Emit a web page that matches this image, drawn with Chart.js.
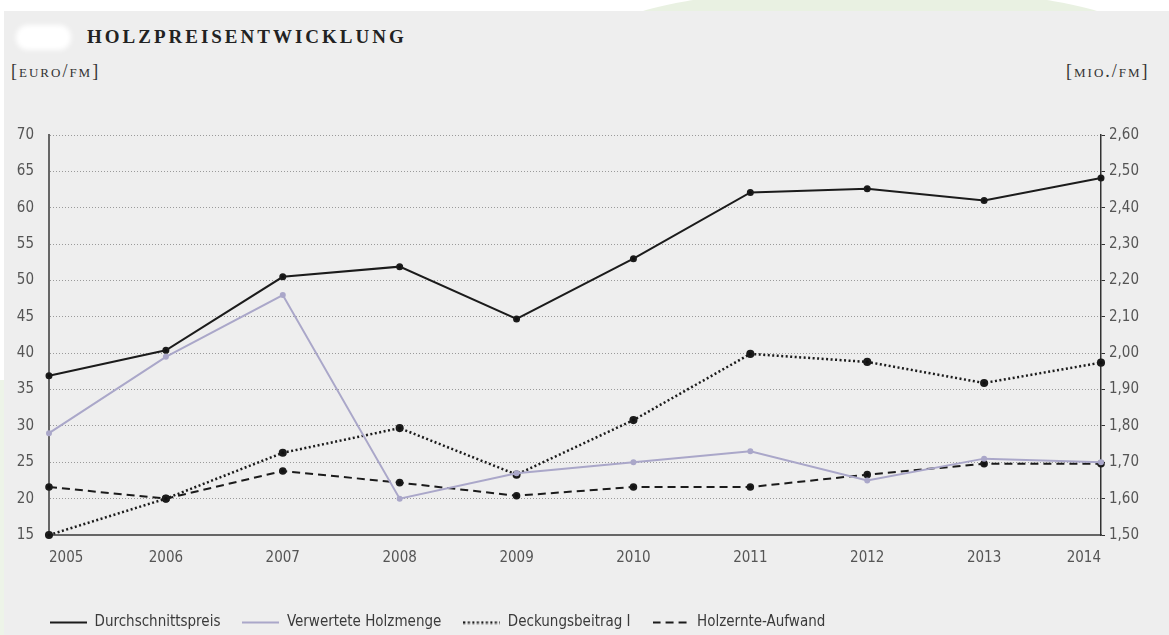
<!DOCTYPE html>
<html>
<head>
<meta charset="utf-8">
<script src="https://cdn.jsdelivr.net/npm/chart.js@4.4.1/dist/chart.umd.min.js"></script>
<style>
  body { margin: 0; width: 1169px; height: 635px; overflow: hidden; position: relative; background: #fff; }
  #arc { position: absolute; left: 610px; top: -12px; width: 520px; height: 90px; border-radius: 50%; background: #e9f1e2; }
  #strip { position: absolute; left: 0; top: 380px; width: 6px; height: 255px; background: #edf4e8; }
  #panel { position: absolute; left: 4px; top: 11px; right: 0; bottom: 0; background: #eeeeee; }
  #logo { position: absolute; left: 16px; top: 25px; width: 55px; height: 25px; background: #fff; border-radius: 12px; filter: blur(2.5px); }
  #title { position: absolute; left: 87px; top: 26px; font: bold 19px "Liberation Serif", serif; letter-spacing: 3px; color: #222; }
  .unit { position: absolute; top: 61px; font: 18px "Liberation Serif", serif; font-variant: small-caps; letter-spacing: 2px; color: #333; }
  #wrap { position: absolute; left: 0; top: 100px; }
</style>
</head>
<body>
<div id="arc"></div>
<div id="strip"></div>
<div id="panel"></div>
<div id="logo"></div>
<div id="title">HOLZPREISENTWICKLUNG</div>
<div class="unit" style="left:11px">[euro/fm]</div>
<div class="unit" style="left:1066px">[mio./fm]</div>
<div id="wrap"><canvas id="chart" width="1169" height="550"></canvas></div>
<script>
const years = ["2005", "2006", "2007", "2008", "2009", "2010", "2011", "2012", "2013", "2014"];
const durchschnittspreis = [36.9, 40.4, 50.5, 51.9, 44.7, 53.0, 62.1, 62.6, 61.0, 64.1];
const verwerteteHolzmenge = [1.78, 1.99, 2.16, 1.60, 1.67, 1.70, 1.73, 1.65, 1.71, 1.70];
const deckungsbeitrag = [15.0, 20.0, 26.3, 29.7, 23.3, 30.8, 39.9, 38.8, 35.9, 38.7];
const holzernteAufwand = [21.6, 20.0, 23.8, 22.2, 20.4, 21.6, 21.6, 23.3, 24.8, 24.8];
const euroTicks = [15, 20, 25, 30, 35, 40, 45, 50, 55, 60, 65, 70];
const mioTicks = [1.5, 1.6, 1.7, 1.8, 1.9, 2.0, 2.1, 2.2, 2.3, 2.4, 2.5, 2.6];

const sansFont = '"DejaVu Sans Condensed", Roboto, sans-serif';
const fontSize = 15;

// small line samples for the legend keys (keeps the dash pattern)
function legendSample(dataset) {
  const c = document.createElement("canvas");
  c.width = 37;
  c.height = 4;
  const g = c.getContext("2d");
  g.strokeStyle = dataset.borderColor;
  g.lineWidth = dataset.borderWidth;
  g.setLineDash(dataset.borderDash || []);
  g.beginPath();
  g.moveTo(0, 2);
  g.lineTo(37, 2);
  g.stroke();
  return c;
}

// move the legend in line with the reference's left margin
const legendOffset = {
  id: "legendOffset",
  afterLayout(chart) {
    chart.legend.left += 28;
    chart.legend.right += 28;
  },
};

function initializeChart() {
  const ctx = document.getElementById("chart").getContext("2d");
  return new Chart(ctx, {
    type: "line",
    data: {
      labels: years,
      datasets: [
        {
          label: "Durchschnittspreis",
          data: durchschnittspreis,
          yAxisID: "y",
          borderColor: "#1b1b1b",
          backgroundColor: "#111",
          borderWidth: 2,
          pointRadius: 2.5,
          clip: false,
        },
        {
          label: "Verwertete Holzmenge",
          data: verwerteteHolzmenge,
          yAxisID: "y2",
          borderColor: "#aaa7c9",
          backgroundColor: "#aaa7c9",
          borderWidth: 2,
          pointRadius: 2,
          clip: false,
        },
        {
          label: "Deckungsbeitrag I",
          data: deckungsbeitrag,
          yAxisID: "y",
          borderColor: "#1b1b1b",
          backgroundColor: "#111",
          borderWidth: 2.5,
          borderDash: [2, 2.5],
          pointRadius: 2.8,
          clip: false,
        },
        {
          label: "Holzernte-Aufwand",
          data: holzernteAufwand,
          yAxisID: "y",
          borderColor: "#1b1b1b",
          backgroundColor: "#111",
          borderWidth: 2,
          borderDash: [8, 5],
          pointRadius: 2.8,
          clip: false,
        },
      ],
    },
    options: {
      responsive: false,
      animation: false,
      layout: {
        padding: { top: 35, bottom: 10, left: 0, right: 0 },
      },
      scales: {
        x: {
          grid: { display: false, drawTicks: false },
          border: { color: "#666", width: 2 },
          ticks: {
            align: "inner",
            padding: 14,
            maxRotation: 0,
            autoSkip: false,
            color: "#555",
            font: { family: sansFont, size: fontSize },
          },
          afterFit: (scale) => { scale.height = 58; },
        },
        y: {
          position: "left",
          min: 15,
          max: 70,
          afterBuildTicks: (scale) => { scale.ticks = euroTicks.map((v) => ({ value: v })); },
          afterFit: (scale) => { scale.width = 49; },
          grid: { color: "#9a9a9a", lineWidth: 1, drawTicks: false },
          border: { color: "#666", width: 2, dash: [1, 2] },
          ticks: {
            padding: 15,
            color: "#555",
            font: { family: sansFont, size: fontSize },
          },
        },
        y2: {
          position: "right",
          min: 1.5,
          max: 2.6,
          afterBuildTicks: (scale) => { scale.ticks = mioTicks.map((v) => ({ value: v })); },
          afterFit: (scale) => { scale.width = 68; },
          grid: { drawOnChartArea: false, tickLength: 4, color: "#333" },
          border: { color: "#333", width: 1.5 },
          ticks: {
            padding: 4,
            color: "#555",
            font: { family: sansFont, size: fontSize },
            callback: (value) => value.toFixed(2).replace(".", ","),
          },
        },
      },
      plugins: {
        tooltip: { enabled: false },
        legend: {
          position: "bottom",
          align: "start",
          labels: {
            usePointStyle: true,
            pointStyleWidth: 37,
            padding: 22,
            color: "#3a3a3a",
            font: { family: sansFont, size: fontSize },
            generateLabels: (chart) =>
              Chart.defaults.plugins.legend.labels.generateLabels(chart).map((item) => ({
                ...item,
                pointStyle: legendSample(chart.data.datasets[item.datasetIndex]),
              })),
          },
        },
      },
    },
    plugins: [legendOffset],
  });
}

initializeChart();
</script>
</body>
</html>
